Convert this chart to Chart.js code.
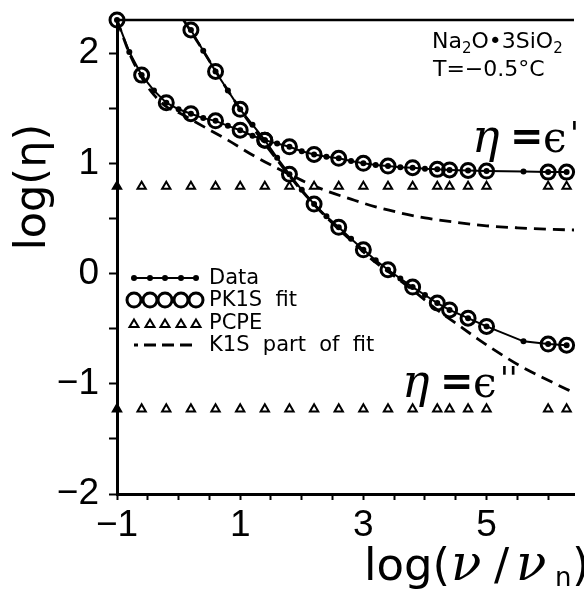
<!DOCTYPE html>
<html>
<head>
<meta charset="utf-8">
<script src="https://cdn.jsdelivr.net/npm/chart.js@4.4.1/dist/chart.umd.min.js"></script>
<style>
  html, body { margin: 0; padding: 0; background: #fff; }
  #wrap { position: relative; width: 584px; height: 591px; }
</style>
</head>
<body>
<div id="wrap"><canvas id="chart"></canvas></div>
<script>
// measured data, x = log(nu/nu_n)
const dataFreq = [-1, -0.8, -0.6, -0.4, -0.2, 0, 0.2, 0.4, 0.6, 0.8, 1.0, 1.2, 1.4, 1.6, 1.8, 2.0, 2.2, 2.4, 2.6, 2.8, 3.0, 3.2, 3.4, 3.6, 3.8, 4.0, 4.2, 4.4, 4.7, 5.0, 5.6, 6.0, 6.3]
const dataReal = [2.30, 2.01, 1.80, 1.66, 1.55, 1.49, 1.45, 1.41, 1.385, 1.34, 1.30, 1.25, 1.21, 1.18, 1.15, 1.11, 1.08, 1.06, 1.045, 1.02, 1.00, 0.985, 0.975, 0.965, 0.96, 0.95, 0.945, 0.94, 0.935, 0.93, 0.925, 0.92, 0.92]
const dataImagFreq = [0.2, 0.4, 0.6, 0.8, 1.0, 1.2, 1.4, 1.6, 1.8, 2.0, 2.2, 2.4, 2.6, 2.8, 3.0, 3.2, 3.4, 3.6, 3.8, 4.0, 4.2, 4.4, 4.7, 5.0, 5.6, 6.0, 6.3]
const dataImag = [2.21, 2.02, 1.833, 1.66, 1.49, 1.35, 1.21, 1.05, 0.90, 0.76, 0.63, 0.52, 0.42, 0.315, 0.215, 0.12, 0.034, -0.045, -0.123, -0.195, -0.268, -0.33, -0.405, -0.48, -0.615, -0.64, -0.65]

// PK1S fit (circles)
const fitFreq = [-1, -0.6, -0.2, 0.2, 0.6, 1.0, 1.4, 1.8, 2.2, 2.6, 3.0, 3.4, 3.8, 4.2, 4.4, 4.7, 5.0, 6.0, 6.3]
const fitReal = [2.30, 1.80, 1.55, 1.45, 1.385, 1.30, 1.21, 1.15, 1.08, 1.045, 1.00, 0.975, 0.96, 0.945, 0.94, 0.935, 0.93, 0.92, 0.92]
const fitImagFreq = [0.2, 0.6, 1.0, 1.4, 1.8, 2.2, 2.6, 3.0, 3.4, 3.8, 4.2, 4.4, 4.7, 5.0, 6.0, 6.3]
const fitImag = [2.21, 1.833, 1.49, 1.21, 0.90, 0.63, 0.42, 0.215, 0.034, -0.123, -0.268, -0.33, -0.405, -0.48, -0.64, -0.65]

// PCPE part (triangles)
const pcpeReal = [0.79, 0.79, 0.79, 0.79, 0.79, 0.79, 0.79, 0.79, 0.79, 0.79, 0.79, 0.79, 0.79, 0.79, 0.79, 0.79, 0.79, 0.79, 0.79]
const pcpeImag = [-1.23, -1.23, -1.23, -1.23, -1.23, -1.23, -1.23, -1.23, -1.23, -1.23, -1.23, -1.23, -1.23, -1.23, -1.23, -1.23, -1.23, -1.23, -1.23]

// K1S part of fit (dashed)
const k1sRealFreq = [-1, -0.8, -0.6, -0.4, -0.2, 0, 0.4, 0.8, 1.2, 1.6, 2.0, 2.4, 2.8, 3.2, 3.6, 4.0, 4.5, 5.0, 5.5, 6.0, 6.42]
const k1sReal = [2.30, 2.00, 1.78, 1.62, 1.515, 1.46, 1.335, 1.21, 1.075, 0.955, 0.845, 0.75, 0.675, 0.605, 0.55, 0.505, 0.465, 0.433, 0.415, 0.402, 0.395]
const k1sImagFreq = [0.08, 0.4, 0.8, 1.2, 1.6, 2.0, 2.4, 2.8, 3.2, 3.4, 3.8, 4.2, 4.5, 4.85, 5.2, 5.55, 5.9, 6.3, 6.42]
const k1sImag = [2.30, 2.02, 1.66, 1.33, 1.03, 0.75, 0.51, 0.30, 0.10, 0.02, -0.15, -0.33, -0.45, -0.59, -0.72, -0.84, -0.94, -1.05, -1.08]

const xTicks = [-1, -0.5, 0, 0.5, 1, 1.5, 2, 2.5, 3, 3.5, 4, 4.5, 5, 5.5, 6]
const xLabels = [-1, 1, 3, 5]
const yTicks = [-2, -1.5, -1, -0.5, 0, 0.5, 1, 1.5, 2]
const yLabels = [-2, -1, 0, 1, 2]

const pts = (xs, ys) => xs.map((x, i) => ({ x: x, y: ys[i] }))
const minus = v => (v < 0 ? "\u2212" + Math.abs(v) : String(v))

const TICKFONT = "'Liberation Sans', sans-serif"
const SANS = "'DejaVu Sans', sans-serif"
const SERIF = "'DejaVu Serif', serif"

// frame, legend and notes
const extras = {
  id: "extras",
  afterDraw(chart) {
    const ctx = chart.ctx
    const a = chart.chartArea
    ctx.save()
    ctx.strokeStyle = "#000"
    ctx.fillStyle = "#000"
    ctx.lineWidth = 2.5
    ctx.beginPath()
    ctx.moveTo(a.left, a.top)
    ctx.lineTo(a.right, a.top)
    ctx.stroke()

    // legend
    const sx = [134, 150, 165, 181, 196]
    ctx.lineWidth = 2
    ctx.beginPath(); ctx.moveTo(134, 278); ctx.lineTo(196, 278); ctx.stroke()
    sx.forEach(x => { ctx.beginPath(); ctx.arc(x, 278, 3, 0, Math.PI * 2); ctx.fill() })
    ctx.lineWidth = 3
    sx.forEach(x => { ctx.beginPath(); ctx.arc(x, 300, 7, 0, Math.PI * 2); ctx.stroke() })
    ctx.lineWidth = 2
    sx.forEach(x => {
      ctx.beginPath(); ctx.moveTo(x, 319.5); ctx.lineTo(x + 4.5, 327); ctx.lineTo(x - 4.5, 327); ctx.closePath(); ctx.stroke()
    })
    ctx.lineWidth = 2.8
    ctx.setLineDash([12, 6])
    ctx.lineDashOffset = 8
    ctx.beginPath(); ctx.moveTo(134, 345); ctx.lineTo(197, 345); ctx.stroke()
    ctx.setLineDash([])

    ctx.font = "21px " + SANS
    ctx.textBaseline = "middle"
    ctx.fillText("Data", 209, 279)
    ctx.fillText("PK1S  fit", 209, 301)
    ctx.fillText("PCPE", 209, 324)
    ctx.fillText("K1S  part  of  fit", 209, 346)

    // sample and temperature
    ctx.textBaseline = "alphabetic"
    let x = 432
    const put = (t, f, dy) => { ctx.font = f; ctx.fillText(t, x, 48 + dy); x += ctx.measureText(t).width }
    put("Na", "22px " + SANS, 0)
    put("2", "15px " + SANS, 5)
    put("O\u20223SiO", "22px " + SANS, 0)
    put("2", "15px " + SANS, 5)
    ctx.font = "22px " + SANS
    ctx.fillText("T=\u22120.5\u00b0C", 433, 76)

    // curve names
    const eta = (x0, y0, tail) => {
      ctx.font = "italic 46px " + SERIF
      ctx.fillText("\u03b7", x0, y0)
      ctx.font = "bold 40px " + SANS
      ctx.fillText("=", x0 + 38, y0 - 2)
      ctx.font = "42px " + SERIF
      ctx.fillText("\u03f5", x0 + 71, y0)
      ctx.font = "32px " + SANS
      ctx.fillText(tail, x0 + 98, y0 - 8)
    }
    eta(472, 152, "'")
    eta(402, 397, "''")

    // axis titles
    ctx.font = "43px " + SANS
    ctx.save()
    ctx.translate(45, 187)
    ctx.rotate(-Math.PI / 2)
    ctx.textAlign = "center"
    ctx.fillText("log(\u03b7)", 0, 0)
    ctx.restore()

    ctx.font = "45px " + SANS
    ctx.fillText("log(", 364, 580)
    ctx.font = "italic 50px " + SERIF
    ctx.fillText("\u03bd", 451, 580)
    ctx.font = "45px " + SANS
    ctx.fillText("/", 494, 580)
    ctx.font = "italic 50px " + SERIF
    ctx.fillText("\u03bd", 516, 580)
    ctx.font = "26px " + SANS
    ctx.fillText("n", 555, 586)
    ctx.font = "45px " + SANS
    ctx.fillText(")", 572, 580)
    ctx.restore()
  }
}

new Chart(document.getElementById("chart"), {
  type: "scatter",
  data: {
    datasets: [
      {
        label: "PK1S fit",
        data: pts(fitFreq, fitReal),
        pointRadius: 7, pointBorderWidth: 3, pointBorderColor: "#000",
        pointBackgroundColor: "rgba(0,0,0,0)", showLine: false, clip: false, order: 1
      },
      {
        label: "PK1S fit imag",
        data: pts(fitImagFreq, fitImag),
        pointRadius: 7, pointBorderWidth: 3, pointBorderColor: "#000",
        pointBackgroundColor: "rgba(0,0,0,0)", showLine: false, clip: false, order: 1
      },
      {
        label: "Data",
        data: pts(dataFreq, dataReal),
        showLine: true, borderColor: "#000", borderWidth: 2, tension: 0,
        pointRadius: 3, pointBackgroundColor: "#000", pointBorderWidth: 0, clip: false, order: 2
      },
      {
        label: "Data imag",
        data: pts(dataImagFreq, dataImag),
        showLine: true, borderColor: "#000", borderWidth: 2, tension: 0,
        pointRadius: 3, pointBackgroundColor: "#000", pointBorderWidth: 0, clip: false, order: 2
      },
      {
        label: "PCPE",
        data: pts(fitFreq, pcpeReal),
        pointStyle: "triangle", pointRadius: 4.8, pointBorderWidth: 2, pointBorderColor: "#000",
        pointBackgroundColor: fitFreq.map((f, i) => (i === 0 ? "#000" : "#fff")), showLine: false, clip: false, order: 3
      },
      {
        label: "PCPE imag",
        data: pts(fitFreq, pcpeImag),
        pointStyle: "triangle", pointRadius: 4.8, pointBorderWidth: 2, pointBorderColor: "#000",
        pointBackgroundColor: fitFreq.map((f, i) => (i === 0 ? "#000" : "#fff")), showLine: false, clip: false, order: 3
      },
      {
        label: "K1S part of fit",
        data: pts(k1sRealFreq, k1sReal),
        showLine: true, borderColor: "#000", borderWidth: 2.8, borderDash: [12, 7],
        cubicInterpolationMode: "monotone", pointRadius: 0, order: 4
      },
      {
        label: "K1S imag",
        data: pts(k1sImagFreq, k1sImag),
        showLine: true, borderColor: "#000", borderWidth: 2.8, borderDash: [12, 7],
        cubicInterpolationMode: "monotone", pointRadius: 0, order: 4
      }
    ]
  },
  options: {
    responsive: true,
    maintainAspectRatio: false,
    animation: false,
    layout: { padding: { top: 20, right: 0, left: 0, bottom: 0 } },
    plugins: { legend: { display: false }, tooltip: { enabled: false } },
    scales: {
      x: {
        type: "linear", min: -1, max: 6.42,
        afterBuildTicks: s => { s.ticks = xTicks.map(v => ({ value: v })) },
        afterFit: s => { s.height = 97; s.paddingLeft = 0; s.paddingRight = 0 },
        border: { display: true, color: "#000", width: 3 },
        grid: { drawOnChartArea: false, drawTicks: true, tickLength: 6, tickWidth: 2, tickColor: "#000" },
        ticks: {
          autoSkip: false, maxRotation: 0, padding: 4, color: "#000",
          font: { family: TICKFONT, size: 37 },
          callback: v => (xLabels.includes(v) ? minus(v) : "")
        }
      },
      y: {
        type: "linear", min: -2, max: 2.3,
        afterBuildTicks: s => { s.ticks = yTicks.map(v => ({ value: v })) },
        afterFit: s => { s.width = 117; s.paddingTop = 0; s.paddingBottom = 0 },
        border: { display: true, color: "#000", width: 3 },
        grid: { drawOnChartArea: false, drawTicks: true, tickLength: 8, tickWidth: 2, tickColor: "#000" },
        ticks: {
          autoSkip: false, padding: 10, color: "#000",
          font: { family: TICKFONT, size: 37 },
          callback: v => (yLabels.includes(v) ? minus(v) : "")
        }
      }
    }
  },
  plugins: [extras]
})
</script>
</body>
</html>
